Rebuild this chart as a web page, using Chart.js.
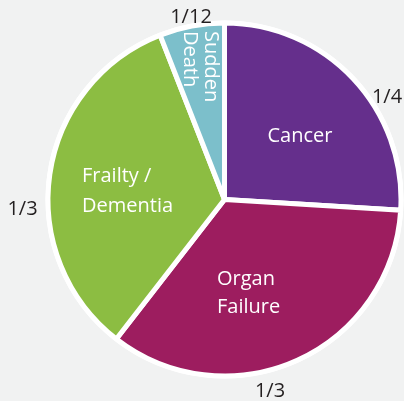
<!DOCTYPE html>
<html>
<head>
<meta charset="utf-8">
<script src="https://cdn.jsdelivr.net/npm/chart.js@4"></script>
<style>
  html, body { margin: 0; padding: 0; background: #f1f2f2; }
  #wrap { width: 404px; height: 401px; }
</style>
</head>
<body>
<div id="wrap"><canvas id="pie" width="404" height="401"></canvas></div>
<script>
// ── Data ────────────────────────────────────────────────
const categories = ['Cancer', 'Organ Failure', 'Frailty / Dementia', 'Sudden Death'];
const sliceLines = [['Cancer'], ['Organ', 'Failure'], ['Frailty /', 'Dementia'], ['Sudden', 'Death']];
const shares     = [93.5, 124.3, 120.8, 21.4];   // as drawn (degrees of the circle)
const fractions  = ['1/4', '1/3', '1/3', '1/12'];
const colors     = ['#652f8c', '#9d1d5f', '#8cbd42', '#7cbfcb'];

// ── Label placement (offsets from pie centre) ───────────
const inner = [
    { align: 'center', x: 75.5,   y: [-57.5] },
    { align: 'left',   x: -7.5,   y: [85.5, 113.5] },
    { align: 'left',   x: -142.5, y: [-17.5, 12] },
    { align: 'left',   rotate: true, y: -168.5, x: [-19.5, -40.5] },
];
const outer = [
    { x: 162.5, y: -96.5 },
    { x: 45.5,  y: 197.5 },
    { x: -202,  y: 15.5 },
    { x: -33.5, y: -176.5 },
];

const FONT = '20px "Open Sans", "Noto Sans", sans-serif';

const labelPlugin = {
    id: 'sliceLabels',
    beforeDatasetsDraw(chart) {
        const arc = chart.getDatasetMeta(0).data[0];
        const { x, y, outerRadius } = arc.getProps(['x', 'y', 'outerRadius'], true);
        const ctx = chart.ctx;
        ctx.save();
        ctx.fillStyle = '#ffffff';
        ctx.beginPath();
        ctx.arc(x, y, outerRadius + 2.5, 0, Math.PI * 2);
        ctx.fill();
        ctx.restore();
    },
    afterDraw(chart) {
        const arc = chart.getDatasetMeta(0).data[0];
        const { x: cx, y: cy } = arc.getProps(['x', 'y'], true);
        const ctx = chart.ctx;
        ctx.save();
        ctx.font = FONT;
        ctx.textBaseline = 'alphabetic';

        // inside the slices
        ctx.fillStyle = '#ffffff';
        sliceLines.forEach((lines, i) => {
            const p = inner[i];
            ctx.textAlign = p.align;
            if (p.rotate) {
                lines.forEach((t, j) => {
                    ctx.save();
                    ctx.translate(cx + p.x[j], cy + p.y);
                    ctx.rotate(Math.PI / 2);
                    ctx.fillText(t, 0, 0);
                    ctx.restore();
                });
            } else {
                lines.forEach((t, j) => ctx.fillText(t, cx + p.x, cy + p.y[j]));
            }
        });

        // fractions around the pie
        ctx.fillStyle = '#231f20';
        ctx.textAlign = 'center';
        fractions.forEach((t, i) => ctx.fillText(t, cx + outer[i].x, cy + outer[i].y));
        ctx.restore();
    },
};

new Chart(document.getElementById('pie'), {
    type: 'pie',
    data: {
        labels: categories,
        datasets: [{
            data: shares,
            backgroundColor: colors,
            borderColor: '#ffffff',
            borderWidth: 5,
            hoverOffset: 0,
        }],
    },
    options: {
        responsive: false,
        animation: false,
        events: [],
        radius: 176.5,
        layout: { padding: { left: 45, right: 0, top: 0, bottom: 2 } },
        plugins: { legend: { display: false }, tooltip: { enabled: false } },
    },
    plugins: [labelPlugin],
});
</script>
</body>
</html>
